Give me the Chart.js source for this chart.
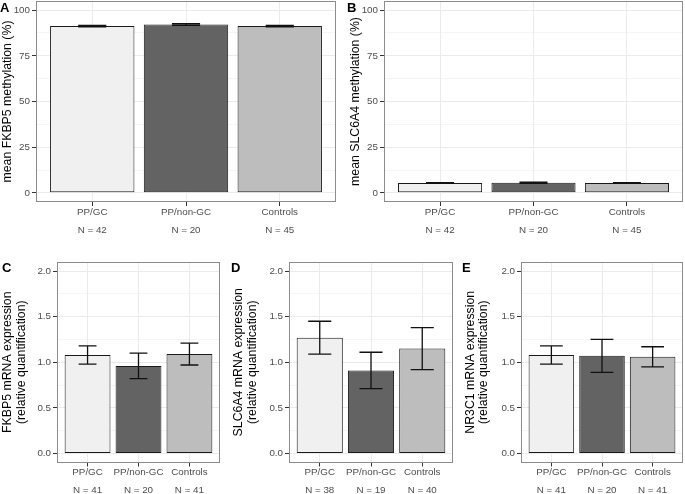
<!DOCTYPE html>
<html>
<head>
<meta charset="utf-8">
<script src="https://cdn.jsdelivr.net/npm/chart.js@4.4.1/dist/chart.umd.min.js"></script>
<style>
  body { margin: 0; background: #fff; width: 685px; height: 494px; position: relative; overflow: hidden;
         font-family: "Liberation Sans", Arial, Helvetica, sans-serif; }
  .panel { position: absolute; }
  .tag { position: absolute; font-weight: bold; font-size: 13px; line-height: 13px; color: #000; }
</style>
</head>
<body>
<div class="panel" id="panelA"><canvas id="chartA"></canvas></div>
<div class="panel" id="panelB"><canvas id="chartB"></canvas></div>
<div class="panel" id="panelC"><canvas id="chartC"></canvas></div>
<div class="panel" id="panelD"><canvas id="chartD"></canvas></div>
<div class="panel" id="panelE"><canvas id="chartE"></canvas></div>
<div class="tag" style="left:0px;top:1px">A</div>
<div class="tag" style="left:347px;top:1px">B</div>
<div class="tag" style="left:2px;top:261px">C</div>
<div class="tag" style="left:231px;top:261px">D</div>
<div class="tag" style="left:462px;top:261px">E</div>
<script>
const groups = ['PP/GC', 'PP/non-GC', 'Controls'];

// A - FKBP5 methylation (%)
const fkbp5MethN = [42, 20, 45];
const fkbp5MethMean = [91.3, 92.1, 91.3];
const fkbp5MethSe = [0.4, 0.45, 0.4];

// B - SLC6A4 methylation (%)
const slc6a4MethN = [42, 20, 45];
const slc6a4MethMean = [5.4, 5.5, 5.4];
const slc6a4MethSe = [0.25, 0.3, 0.25];

// C - FKBP5 mRNA
const fkbp5ExprN = [41, 20, 41];
const fkbp5ExprMean = [1.08, 0.96, 1.09];
const fkbp5ExprSe = [0.10, 0.14, 0.12];

// D - SLC6A4 mRNA
const slc6a4ExprN = [38, 19, 40];
const slc6a4ExprMean = [1.27, 0.91, 1.15];
const slc6a4ExprSe = [0.18, 0.20, 0.23];

// E - NR3C1 mRNA
const nr3c1ExprN = [41, 20, 41];
const nr3c1ExprMean = [1.08, 1.07, 1.06];
const nr3c1ExprSe = [0.10, 0.18, 0.11];

// tick labels
const methTicks = [0, 25, 50, 75, 100];
const exprTicks = [0, 0.5, 1.0, 1.5, 2.0];

const barColors = ['#f0f0f0', '#636363', '#bdbdbd'];
const fontFamily = '"Liberation Sans", Arial, Helvetica, sans-serif';

Chart.defaults.font.family = fontFamily;

function drawPanel(cfg) {
    const box = cfg.box;
    const area = cfg.area;
    const wrap = document.getElementById(cfg.wrapId);
    wrap.style.left = box.left + 'px';
    wrap.style.top = box.top + 'px';
    wrap.style.width = box.width + 'px';
    wrap.style.height = box.height + 'px';
    const canvas = document.getElementById(cfg.canvasId);
    canvas.width = box.width;
    canvas.height = box.height;

    const ticks = cfg.ticks;
    const step = ticks[1] - ticks[0];
    const span = ticks[ticks.length - 1] - ticks[0];
    const yValues = [];
    ticks.forEach((t, i) => {
        yValues.push(t);
        if (i < ticks.length - 1) yValues.push(t + step / 2);
    });
    const isMajor = v => ticks.some(t => Math.abs(t - v) < 1e-9);

    const errorBars = {
        id: 'errorBars',
        afterDatasetsDraw(chart) {
            const { ctx, scales: { x, y } } = chart;
            const half = x.getPixelForValue(1 + cfg.cap / 2) - x.getPixelForValue(1);
            ctx.save();
            ctx.strokeStyle = '#111';
            ctx.lineWidth = 1.3;
            chart.getDatasetMeta(0).data.forEach((bar, i) => {
                const hi = y.getPixelForValue(cfg.mean[i] + cfg.se[i]);
                const lo = y.getPixelForValue(cfg.mean[i] - cfg.se[i]);
                ctx.beginPath();
                ctx.moveTo(bar.x, hi); ctx.lineTo(bar.x, lo);
                ctx.moveTo(bar.x - half, hi); ctx.lineTo(bar.x + half, hi);
                ctx.moveTo(bar.x - half, lo); ctx.lineTo(bar.x + half, lo);
                ctx.stroke();
            });
            ctx.restore();
        }
    };

    const panelBorder = {
        id: 'panelBorder',
        afterDraw(chart) {
            const a = chart.chartArea;
            const ctx = chart.ctx;
            ctx.save();
            ctx.strokeStyle = '#8c8c8c';
            ctx.lineWidth = 1;
            ctx.strokeRect(Math.round(a.left) + 0.5, Math.round(a.top) + 0.5,
                Math.round(a.right - a.left) - 1, Math.round(a.bottom - a.top) - 1);
            ctx.restore();
        }
    };

    const titleLH = cfg.titleLineHeight;

    new Chart(canvas, {
        type: 'bar',
        data: {
            datasets: [{
                data: cfg.mean.map((m, i) => ({ x: i + 1, y: m })),
                backgroundColor: barColors,
                borderColor: '#1a1a1a',
                borderWidth: 1,
                borderSkipped: false,
                categoryPercentage: 0.9,
                barPercentage: 1
            }]
        },
        options: {
            responsive: false,
            animation: false,
            events: [],
            layout: {
                padding: {
                    left: 0,
                    top: area.top - box.top,
                    right: box.left + box.width - area.right,
                    bottom: 0
                }
            },
            plugins: {
                legend: { display: false },
                tooltip: { enabled: false }
            },
            scales: {
                x: {
                    type: 'linear',
                    min: 0.4,
                    max: 3.6,
                    offset: false,
                    grid: { color: '#ebebeb', lineWidth: 1, offset: false, tickLength: 4, tickColor: '#333' },
                    border: { display: false },
                    ticks: {
                        color: '#4d4d4d',
                        font: { size: 9.8, lineHeight: '18px' },
                        padding: -3,
                        maxRotation: 0,
                        autoSkip: false,
                        callback: v => [groups[v - 1], 'N = ' + cfg.n[v - 1]]
                    },
                    afterBuildTicks: s => { s.ticks = groups.map((g, i) => ({ value: i + 1 })); },
                    afterFit: s => {
                        s.height = box.top + box.height - area.bottom;
                        s.paddingLeft = 0;
                        s.paddingRight = 0;
                    }
                },
                y: {
                    type: 'linear',
                    min: ticks[0] - span * 0.05,
                    max: ticks[ticks.length - 1] + span * 0.05,
                    grid: {
                        color: '#ebebeb',
                        lineWidth: c => (c.tick && isMajor(c.tick.value)) ? 1 : 0.5,
                        tickLength: 4,
                        tickColor: c => (c.tick && isMajor(c.tick.value)) ? '#333' : 'rgba(0,0,0,0)'
                    },
                    border: { display: false },
                    ticks: {
                        color: '#4d4d4d',
                        font: { size: 9.8 },
                        padding: 2,
                        callback: v => isMajor(v) ? cfg.fmt(v) : ''
                    },
                    title: {
                        display: true,
                        text: cfg.title,
                        color: '#000',
                        font: { size: 12.3, lineHeight: titleLH / 12.3 },
                        padding: { top: cfg.titleX - box.left - titleLH / 2, bottom: 0 }
                    },
                    afterBuildTicks: s => { s.ticks = yValues.map(v => ({ value: v })); },
                    afterFit: s => {
                        s.width = area.left - box.left;
                        s.paddingTop = 0;
                        s.paddingBottom = 0;
                    }
                }
            }
        },
        plugins: [errorBars, panelBorder]
    });
}

const fmtInt = v => String(Math.round(v));
const fmtOne = v => v.toFixed(1);

drawPanel({
    wrapId: 'panelA', canvasId: 'chartA',
    box: { left: 0, top: 0, width: 340, height: 245 },
    area: { left: 36, top: 1, right: 336, bottom: 202 },
    ticks: methTicks, fmt: fmtInt,
    n: fkbp5MethN, mean: fkbp5MethMean, se: fkbp5MethSe, cap: 0.3,
    title: 'mean FKBP5 methylation (%)', titleX: 8, titleLineHeight: 14.4
});

drawPanel({
    wrapId: 'panelB', canvasId: 'chartB',
    box: { left: 340, top: 0, width: 345, height: 245 },
    area: { left: 384, top: 1, right: 683, bottom: 202 },
    ticks: methTicks, fmt: fmtInt,
    n: slc6a4MethN, mean: slc6a4MethMean, se: slc6a4MethSe, cap: 0.3,
    title: 'mean SLC6A4 methylation (%)', titleX: 355.3, titleLineHeight: 14.4
});

drawPanel({
    wrapId: 'panelC', canvasId: 'chartC',
    box: { left: 0, top: 250, width: 228, height: 244 },
    area: { left: 57, top: 262, right: 220, bottom: 462.5 },
    ticks: exprTicks, fmt: fmtOne,
    n: fkbp5ExprN, mean: fkbp5ExprMean, se: fkbp5ExprSe, cap: 0.35,
    title: ['FKBP5 mRNA expression', '(relative quantification)'], titleX: 8, titleLineHeight: 13.7
});

drawPanel({
    wrapId: 'panelD', canvasId: 'chartD',
    box: { left: 228, top: 250, width: 230, height: 244 },
    area: { left: 289, top: 262, right: 453, bottom: 462.5 },
    ticks: exprTicks, fmt: fmtOne,
    n: slc6a4ExprN, mean: slc6a4ExprMean, se: slc6a4ExprSe, cap: 0.45,
    title: ['SLC6A4 mRNA expression', '(relative quantification)'], titleX: 238.5, titleLineHeight: 13.7
});

drawPanel({
    wrapId: 'panelE', canvasId: 'chartE',
    box: { left: 458, top: 250, width: 227, height: 244 },
    area: { left: 521, top: 262, right: 683, bottom: 462.5 },
    ticks: exprTicks, fmt: fmtOne,
    n: nr3c1ExprN, mean: nr3c1ExprMean, se: nr3c1ExprSe, cap: 0.45,
    title: ['NR3C1 mRNA expression', '(relative quantification)'], titleX: 470.3, titleLineHeight: 13.7
});
</script>
</body>
</html>
